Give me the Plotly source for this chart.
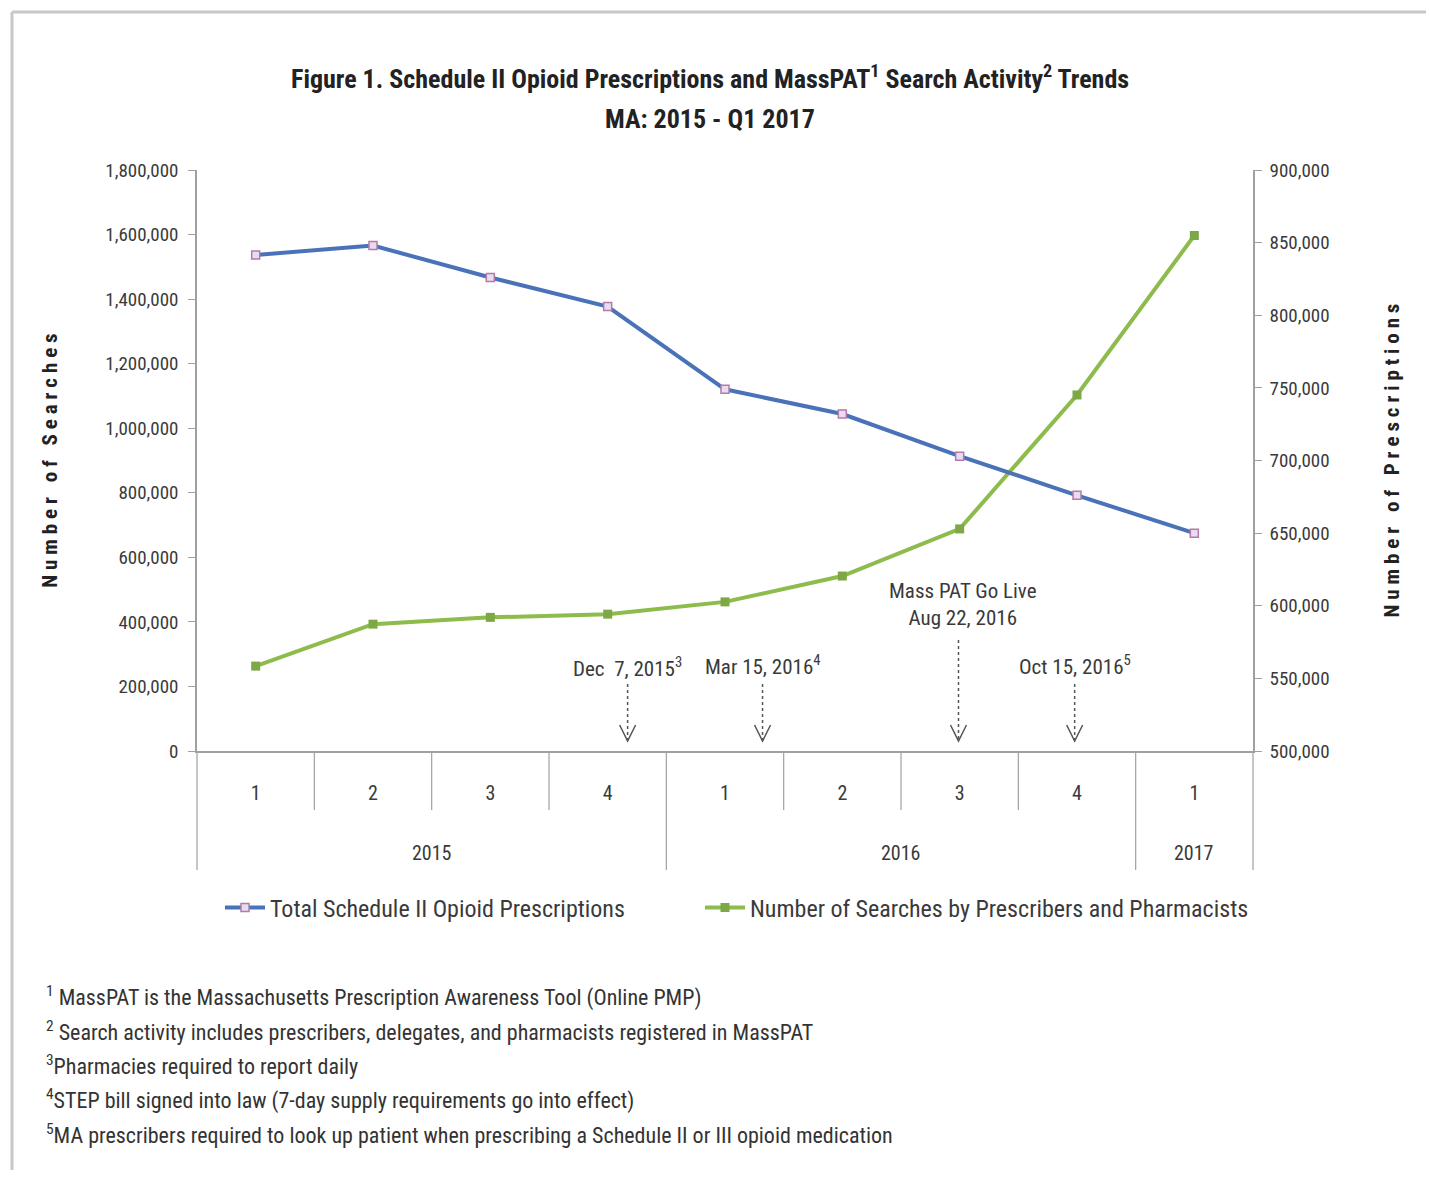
import plotly.graph_objects as go

# ---- data ----
years = ["2015", "2015", "2015", "2015", "2016", "2016", "2016", "2016", "2017"]
quarters = ["1", "2", "3", "4", "1", "2", "3", "4", "1"]
prescriptions = [841500, 848000, 826000, 806000, 749000, 732000, 703000, 676000, 650000]
searches = [263000, 393000, 414000, 424000, 462000, 542000, 688000, 1103000, 1597000]

left_ticks = list(range(0, 1800001, 200000))
right_ticks = list(range(500000, 900001, 50000))

events = ["Dec  7, 2015<sup>3</sup>", "Mar 15, 2016<sup>4</sup>",
          "Mass PAT Go Live<br>Aug 22, 2016", "Oct 15, 2016<sup>5</sup>"]
event_pos = [3.17, 4.32, 5.99, 6.98]

footnotes = [
    "<sup>1</sup> MassPAT is the Massachusetts Prescription Awareness Tool (Online PMP)",
    "<sup>2</sup> Search activity includes prescribers, delegates, and pharmacists registered in MassPAT",
    "<sup>3</sup>Pharmacies required to report daily",
    "<sup>4</sup>STEP bill signed into law (7-day supply requirements go into effect)",
    "<sup>5</sup>MA prescribers required to look up patient when prescribing a Schedule II or III opioid medication",
]

FONT = "Liberation Sans Narrow, Roboto Condensed, Liberation Sans, sans-serif"
TXT = "#3a3a3a"
GRID = "#a0a0a0"

W, H = 1430, 1180
L, R, T, B = 197, 1253, 170, 751


def px(x):
    return (x - L) / (R - L)


def py(y):
    return (B - y) / (B - T)


def spaced(s):
    sp = "\u2005"
    words = s.split(" ")
    return (sp + " " + sp).join(sp.join(list(w)) for w in words)


cats = [f"{y} Q{q}" for y, q in zip(years, quarters)]
n = len(cats)

fig = go.Figure()
fig.add_trace(go.Scatter(
    x=cats, y=prescriptions, name="Total Schedule II Opioid Prescriptions",
    mode="lines+markers", yaxis="y2", legend="legend",
    line=dict(color="#4a72b8", width=4),
    marker=dict(symbol="square", size=8, color="#e4def0", line=dict(color="#b77aa8", width=1.5)),
))
fig.add_trace(go.Scatter(
    x=cats, y=searches, name="Number of Searches by Prescribers and Pharmacists",
    mode="lines+markers", yaxis="y", legend="legend2",
    line=dict(color="#8dbb4c", width=4),
    marker=dict(symbol="square", size=9, color="#7ea846"),
))

shapes = []
annotations = []

# title
annotations.append(dict(xref="paper", yref="paper", x=px(710), y=py(77), showarrow=False,
                        text="<b>Figure 1. Schedule II Opioid Prescriptions and MassPAT<sup>1</sup> Search Activity<sup>2</sup> Trends</b>",
                        font=dict(family=FONT, size=26, color="#222"), xanchor="center", yanchor="middle"))
annotations.append(dict(xref="paper", yref="paper", x=px(710), y=py(119), showarrow=False,
                        text="<b>MA: 2015 - Q1 2017</b>",
                        font=dict(family=FONT, size=26, color="#222"), xanchor="center", yanchor="middle"))

# event annotations with dashed arrows
label_y = [667, 665, None, 665]
for i, (lab, pos) in enumerate(zip(events, event_pos)):
    xp = (pos + 0.5) / n
    if i == 2:
        annotations.append(dict(xref="paper", yref="paper", x=xp + 0.004, y=py(604), showarrow=False,
                                text=lab, font=dict(family=FONT, size=21, color=TXT),
                                xanchor="center", yanchor="middle"))
        top = 640
    else:
        annotations.append(dict(xref="paper", yref="paper", x=xp, y=py(label_y[i]), showarrow=False,
                                text=lab, font=dict(family=FONT, size=21, color=TXT),
                                xanchor="center", yanchor="middle"))
        top = 684
    shapes.append(dict(type="line", xref="paper", yref="paper", x0=xp, x1=xp, y0=py(top), y1=py(741),
                       line=dict(color="#555", width=1.5, dash="3px,3px")))
    shapes.append(dict(type="path", xref="paper", yref="paper", xsizemode="pixel", ysizemode="pixel",
                       xanchor=xp, yanchor=py(741), path="M -8,16 L 0,0 L 8,16",
                       line=dict(color="#555", width=1.5)))

# category dividers and year labels
for b in range(n + 1):
    is_year_edge = b == 0 or b == n or years[b] != years[b - 1]
    shapes.append(dict(type="line", xref="paper", yref="paper", x0=b / n, x1=b / n,
                       y0=py(751), y1=py(870 if is_year_edge else 810),
                       line=dict(color=GRID, width=1.2)))
groups = []
for i, y in enumerate(years):
    if groups and groups[-1][0] == y:
        groups[-1][2] = i
    else:
        groups.append([y, i, i])
for y, a, b in groups:
    annotations.append(dict(xref="paper", yref="paper", x=((a + b) / 2 + 0.5) / n, y=py(853),
                            showarrow=False, text=y, font=dict(family=FONT, size=20, color=TXT),
                            xanchor="center", yanchor="middle"))

# footnotes
for k, fn in enumerate(footnotes):
    annotations.append(dict(xref="paper", yref="paper", x=px(44), y=py(996 + k * 34.5), showarrow=False,
                            text=fn, font=dict(family=FONT, size=22, color="#333"),
                            xanchor="left", yanchor="middle"))

# outer frame (top and left edges visible)
shapes.append(dict(type="line", xref="paper", yref="paper", x0=px(12), x1=px(1426), y0=py(12), y1=py(12),
                   line=dict(color="#c8c8c8", width=3)))
shapes.append(dict(type="line", xref="paper", yref="paper", x0=px(12), x1=px(12), y0=py(12), y1=py(1170),
                   line=dict(color="#c8c8c8", width=3)))

fig.update_layout(
    width=W, height=H,
    margin=dict(l=L, r=W - R, t=T, b=H - B),
    paper_bgcolor="white", plot_bgcolor="white",
    font=dict(family=FONT, color=TXT),
    showlegend=True,
    legend=dict(orientation="h", x=px(220), y=py(908), xanchor="left", yanchor="middle",
                font=dict(family=FONT, size=24, color=TXT), itemwidth=40, bgcolor="rgba(0,0,0,0)"),
    legend2=dict(orientation="h", x=px(700), y=py(908), xanchor="left", yanchor="middle",
                 font=dict(family=FONT, size=24, color=TXT), itemwidth=40, bgcolor="rgba(0,0,0,0)"),
    xaxis=dict(
        type="category", range=[-0.5, n - 0.5], tickvals=cats, ticktext=quarters,
        showline=True, linecolor=GRID, linewidth=2,
        ticks="outside", ticklen=23, tickcolor="rgba(0,0,0,0)",
        tickfont=dict(family=FONT, size=20, color=TXT), showgrid=False, zeroline=False,
    ),
    yaxis=dict(
        range=[0, 1800000], tickvals=left_ticks, tickformat=",", showgrid=False, zeroline=False,
        showline=True, linecolor=GRID, linewidth=1.5, ticks="outside", ticklen=7,
        tickcolor=GRID, tickfont=dict(family=FONT, size=19, color=TXT), ticklabelstandoff=6,
        title=dict(text="<b>" + spaced("Number of Searches") + "</b>",
                   font=dict(family=FONT, size=21, color="#222"), standoff=42),
    ),
    yaxis2=dict(
        range=[500000, 900000], tickvals=right_ticks, tickformat=",", overlaying="y", side="right",
        showgrid=False, zeroline=False, showline=True, linecolor=GRID, linewidth=1.5,
        ticks="outside", ticklen=7, tickcolor=GRID, tickfont=dict(family=FONT, size=19, color=TXT),
        ticklabelstandoff=4,
        title=dict(text="<b>" + spaced("Number of Prescriptions") + "</b>",
                   font=dict(family=FONT, size=21, color="#222"), standoff=56),
    ),
    shapes=shapes, annotations=annotations,
)

fig.write_html("out.html")
